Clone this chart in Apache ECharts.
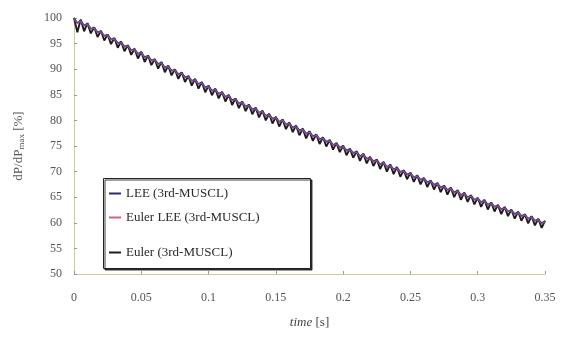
<!DOCTYPE html>
<html><head><meta charset="utf-8">
<script src="https://cdn.jsdelivr.net/npm/echarts@6/dist/echarts.min.js"></script>
<style>html,body{margin:0;padding:0;background:#fff}#c{width:567px;height:338px}</style>
</head><body><div id="c"></div>
<script>
// time sampling: t = index * timeStep (s)
const timeStep = 0.0025;
const xTicks = ['0','0.05','0.1','0.15','0.2','0.25','0.3','0.35'];
const yTicks = [50,55,60,65,70,75,80,85,90,95,100];
const seriesNames = ['LEE (3rd-MUSCL)','Euler LEE (3rd-MUSCL)','Euler (3rd-MUSCL)'];

const leeValues = [
100.0,99.0,99.5,98.5,98.9,97.9,98.1,97.2,97.4,96.5,
96.7,95.8,96.0,95.1,95.3,94.4,94.6,93.7,93.9,93.0,
93.3,92.3,92.6,91.7,91.9,91.0,91.3,90.3,90.6,89.7,
89.9,89.0,89.3,88.4,88.6,87.7,88.0,87.1,87.4,86.4,
86.7,85.8,86.1,85.2,85.5,84.6,84.9,83.9,84.2,83.3,
83.6,82.7,83.0,82.1,82.4,81.5,81.8,80.9,81.2,80.3,
80.6,79.7,80.1,79.2,79.5,78.6,78.9,78.0,78.3,77.4,
77.8,76.9,77.2,76.3,76.6,75.8,76.1,75.2,75.5,74.7,
75.0,74.1,74.4,73.6,73.9,73.0,73.4,72.5,72.8,72.0,
72.3,71.4,71.8,70.9,71.3,70.4,70.8,69.9,70.2,69.4,
69.7,68.9,69.2,68.4,68.7,67.9,68.2,67.4,67.7,66.9,
67.2,66.4,66.8,65.9,66.3,65.4,65.8,65.0,65.3,64.5,
64.8,64.0,64.4,63.5,63.9,63.1,63.4,62.6,63.0,62.2,
62.5,61.7,62.1,61.3,61.6,60.8,61.2,60.4,60.7,59.9,
60.3];

const eulerLeeValues = [
99.9,98.9,99.4,98.4,98.8,97.8,98.0,97.1,97.3,96.4,
96.6,95.7,95.9,95.0,95.2,94.3,94.5,93.6,93.8,92.9,
93.2,92.2,92.5,91.6,91.8,90.9,91.2,90.2,90.5,89.6,
89.8,88.9,89.2,88.3,88.5,87.6,87.9,87.0,87.3,86.3,
86.6,85.7,86.0,85.1,85.4,84.5,84.8,83.8,84.1,83.2,
83.5,82.6,82.9,82.0,82.3,81.4,81.7,80.8,81.1,80.2,
80.5,79.6,80.0,79.1,79.4,78.5,78.8,77.9,78.2,77.3,
77.7,76.8,77.1,76.2,76.5,75.7,76.0,75.1,75.4,74.6,
74.9,74.0,74.3,73.5,73.8,72.9,73.3,72.4,72.7,71.9,
72.2,71.3,71.7,70.8,71.2,70.3,70.7,69.8,70.1,69.3,
69.6,68.8,69.1,68.3,68.6,67.8,68.1,67.3,67.6,66.8,
67.1,66.3,66.7,65.8,66.2,65.3,65.7,64.9,65.2,64.4,
64.7,63.9,64.3,63.4,63.8,63.0,63.3,62.5,62.9,62.1,
62.4,61.6,62.0,61.2,61.5,60.7,61.1,60.3,60.6,59.8,
60.2];

const eulerValues = [
100.0,97.2,99.7,97.4,99.0,97.0,98.2,96.3,97.5,95.6,
96.8,94.9,96.1,94.2,95.4,93.5,94.7,92.8,94.0,92.1,
93.4,91.4,92.7,90.8,92.0,90.1,91.4,89.4,90.7,88.8,
90.0,88.1,89.4,87.5,88.7,86.8,88.1,86.2,87.5,85.5,
86.8,84.9,86.2,84.3,85.6,83.7,85.0,83.0,84.3,82.4,
83.7,81.8,83.1,81.2,82.5,80.6,81.9,80.0,81.3,79.4,
80.7,78.8,80.2,78.3,79.6,77.7,79.0,77.1,78.4,76.5,
77.9,76.0,77.3,75.4,76.7,74.9,76.2,74.3,75.6,73.8,
75.1,73.2,74.5,72.7,74.0,72.1,73.5,71.6,72.9,71.1,
72.4,70.5,71.9,70.0,71.4,69.5,70.9,69.0,70.3,68.5,
69.8,68.0,69.3,67.5,68.8,67.0,68.3,66.5,67.8,66.0,
67.3,65.5,66.9,65.0,66.4,64.5,65.9,64.1,65.4,63.6,
64.9,63.1,64.5,62.6,64.0,62.2,63.5,61.7,63.1,61.3,
62.6,60.8,62.2,60.4,61.7,59.9,61.3,59.5,60.8,59.0,
60.4];

function pairs(vals){ return vals.map((v,i)=>[+(i*timeStep).toFixed(4), v]); }

const serif = '"Liberation Serif","DejaVu Serif",serif';
const chart = echarts.init(document.getElementById('c'), null, {renderer:'canvas'});
const legendText = {fontFamily: serif, fontSize: 13, color: '#2a2a2a'};
chart.setOption({
  animation: false,
  backgroundColor: '#fff',
  grid: {left: 74, right: 22, top: 18, bottom: 64},
  xAxis: {
    type: 'value', min: 0, max: 0.35, interval: 0.05,
    name: '{i|time} {n|[s]}', nameLocation: 'middle', nameGap: 42,
    nameTextStyle: {rich: {i: {fontFamily: serif, fontStyle: 'italic', fontSize: 13, color: '#444'}, n: {fontFamily: serif, fontSize: 13, color: '#444'}}},
    axisLine: {lineStyle: {color: '#c9c9b0', width: 1}},
    axisTick: {inside: true, length: 3, lineStyle: {color: '#999'}},
    axisLabel: {margin: 18, fontFamily: serif, fontSize: 12, color: '#555',
      formatter: v => xTicks[Math.round(v/0.05)]},
    splitLine: {show: false}
  },
  yAxis: {
    type: 'value', min: 50, max: 100, interval: 5,
    name: '{a|dP/dP}{s|max}{a| [%]}', nameLocation: 'middle', nameGap: 48, nameRotate: 90,
    nameTextStyle: {rich: {a: {fontFamily: serif, fontSize: 13, color: '#555'}, s: {fontFamily: serif, fontSize: 9, color: '#555', padding: [6,0,0,0]}}},
    axisLine: {show: true, lineStyle: {color: '#c9c9b0', width: 1}},
    axisTick: {show: true, inside: true, length: 3, lineStyle: {color: '#999'}},
    axisLabel: {margin: 12, fontFamily: serif, fontSize: 12, color: '#555',
      formatter: v => yTicks.includes(v) ? String(v) : ''},
    splitLine: {show: false}
  },
  graphic: [{type: 'rect', left: 103, top: 178, shape: {width: 207, height: 90},
    style: {fill: '#fff', stroke: '#222', lineWidth: 1, shadowColor: 'rgba(0,0,0,0.75)', shadowOffsetX: 1.5, shadowOffsetY: 1.5, shadowBlur: 0}, z: 10}],
  legend: [
    {data: [seriesNames[0]], left: 104, top: 182, itemWidth: 12, itemHeight: 2, textStyle: legendText, icon: 'rect', z: 20},
    {data: [seriesNames[1]], left: 104, top: 206, itemWidth: 12, itemHeight: 2, textStyle: legendText, icon: 'rect', z: 20},
    {data: [seriesNames[2]], left: 104, top: 241, itemWidth: 12, itemHeight: 2, textStyle: legendText, icon: 'rect', z: 20}
  ],
  series: [
    {name: seriesNames[2], type: 'line', data: pairs(eulerValues), showSymbol: false, symbol: 'none',
      lineStyle: {color: '#1c1c1c', width: 1.9}, itemStyle: {color: '#1c1c1c'}, z: 2},
    {name: seriesNames[0], type: 'line', data: pairs(leeValues), showSymbol: false, symbol: 'none',
      lineStyle: {color: '#2f2f7c', width: 1.8}, itemStyle: {color: '#2b2b78'}, z: 3},
    {name: seriesNames[1], type: 'line', data: pairs(eulerLeeValues), showSymbol: false, symbol: 'none',
      lineStyle: {color: '#c86a92', width: 1.4, opacity: 0.55}, itemStyle: {color: '#d0608a'}, z: 4}
  ]
});
</script></body></html>
